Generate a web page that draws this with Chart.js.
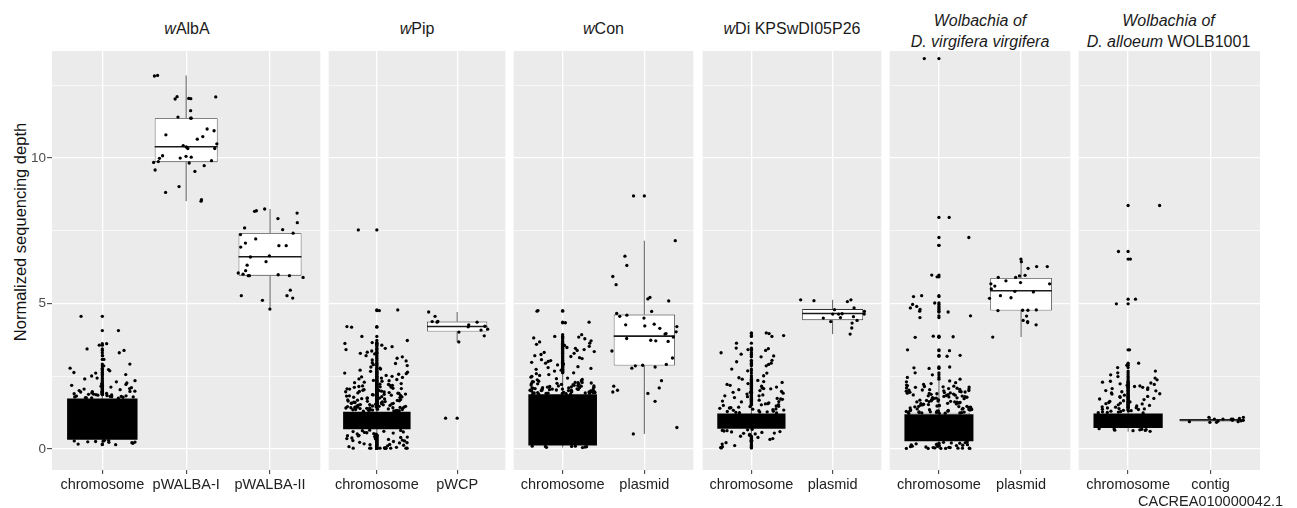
<!DOCTYPE html>
<html>
<head>
<meta charset="utf-8">
<script src="https://cdn.jsdelivr.net/npm/chart.js@4.4.1/dist/chart.umd.min.js"></script>
<style>
  body { margin: 0; background: #fff; width: 1297px; height: 508px; overflow: hidden; position: relative;
         font-family: 'Liberation Sans', Arial, sans-serif; }
  canvas { position: absolute; top: 0; }
  .strip { position: absolute; text-align: center; font-size: 16px; line-height: 21px; color: #1a1a1a; white-space: nowrap; }
  #ytitle { position: absolute; font-size: 16.5px; line-height: 20px; color: #111; white-space: nowrap; transform: rotate(-90deg); }
</style>
</head>
<body>
<div id="ytitle">Normalized sequencing depth</div>
<script>
// facet titles and categories
const titles = [
  '<i>w</i>AlbA',
  '<i>w</i>Pip',
  '<i>w</i>Con',
  '<i>w</i>Di KPSwDI05P26',
  '<i>Wolbachia of</i><br><i>D. virgifera virgifera</i>',
  '<i>Wolbachia of</i><br><i>D. alloeum</i> WOLB1001'
];
const categories = [
  ['chromosome', 'pWALBA-I', 'pWALBA-II'],
  ['chromosome', 'pWCP'],
  ['chromosome', 'plasmid'],
  ['chromosome', 'plasmid'],
  ['chromosome', 'plasmid'],
  ['chromosome', ['contig', 'CACREA010000042.1']]
];

// y axis ticks
const yMajor = [0, 5, 10];
const yMinor = [2.5, 7.5, 12.5];

// sequencing depth per window
const wAlbA_chromosome = [4.56, 4.07, 3.62, 3.57, 3.44, 3.39, 3.31, 3.21, 3.08, 2.86, 2.78, 2.73, 2.69, 2.61, 2.56,
  2.51, 2.44, 2.41, 2.35, 2.31, 2.27, 2.22, 2.19, 2.13, 2.11, 2.06, 2.04, 2.01, 1.98, 1.96, 1.93, 1.91, 1.89, 1.87,
  1.84, 1.82, 1.8, 1.79, 1.77, 1.76, 1.81, 1.83, 1.86, 1.9, 1.94, 1.78, 1.75, 1.79, 1.85, 1.99, 2.08, 2.16, 1.97,
  2.24, 2.63, 2.92, 1.88, 1.76, 1.81,
  0.29, 0.27, 0.25, 0.22, 0.2, 0.17, 0.15, 0.28, 0.24, 0.3, 0.26, 0.23];
const wAlbA_pWALBA_I = [12.82, 12.84, 12.11, 12.03, 12.1, 12.05, 12.04, 11.63, 11.37, 11.37, 11.41, 10.94, 11.0,
  10.8, 10.74, 10.65, 10.49, 10.43, 10.33, 10.38, 10.33, 10.06, 9.99, 9.88, 10.0, 9.91, 10.03, 10.08, 9.83, 9.74,
  9.85, 9.54, 9.59, 9.02, 8.82, 8.57, 8.52];
const wAlbA_pWALBA_II = [8.17, 8.25, 8.19, 8.11, 7.92, 7.78, 7.54, 7.6, 7.42, 7.37, 7.22, 6.99, 6.99, 7.08, 6.94,
  6.6, 6.64, 6.44, 6.32, 6.05, 6.13, 5.99, 5.96, 5.96, 5.96, 6.01, 5.9, 5.27, 5.46, 5.11, 5.27, 5.19, 4.81];

const wPip_chromosome = [7.53, 4.78, 4.76, 4.21, 4.19, 3.87, 3.73, 3.66, 3.63, 3.61, 3.57, 3.52, 3.46, 3.42, 3.37,
  3.33, 3.29, 3.27, 3.21, 3.17, 3.12, 3.06, 3.03, 2.97, 2.94, 2.9, 2.87, 2.82, 2.78, 2.75, 2.71, 2.67, 2.64, 2.61,
  2.57, 2.53, 2.5, 2.48, 2.44, 2.41, 2.39, 2.36, 2.33, 2.3, 2.28, 2.25, 2.22, 2.2, 2.17, 2.15, 2.12, 2.09, 2.07,
  2.04, 2.02, 1.99, 1.97, 1.94, 1.92, 1.89, 1.87, 1.84, 1.82, 1.8, 1.77, 1.75, 1.73, 1.7, 1.68, 1.66, 1.63, 1.61,
  1.59, 1.57, 1.55, 1.53, 1.51, 1.49, 1.47, 1.45, 1.43, 1.41, 1.39, 1.37, 1.35, 1.33, 1.31, 1.3,
  1.32, 1.34, 1.36, 1.38, 1.4, 1.42, 1.44, 1.46, 1.5, 1.54, 1.58, 1.62, 1.67, 1.72, 1.78, 1.85, 1.91, 1.98, 2.06,
  2.14, 2.23, 2.35, 2.46, 2.59, 1.31, 1.35, 1.39, 1.43, 1.48, 1.56,
  1.33, 1.36, 1.41, 1.44, 1.47, 1.52, 1.57, 1.6, 1.64, 1.69, 1.74, 1.79, 1.83, 1.88, 1.93, 1.96, 2.01, 2.08, 2.13,
  2.19, 1.34, 1.38, 1.45, 1.53, 1.65, 1.76, 1.86, 2.03, 1.31, 1.42,
  0.65, 0.63, 0.61, 0.59, 0.57, 0.55, 0.53, 0.51, 0.49, 0.47, 0.45, 0.43, 0.41, 0.38, 0.36, 0.33, 0.31, 0.28, 0.26,
  0.23, 0.21, 0.18, 0.16, 0.13, 0.11, 0.08, 0.06, 0.04, 0.03, 0.03, 0.03, 0.03, 0.03, 0.03, 0.03, 0.03, 0.03, 0.03,
  0.64, 0.6, 0.56, 0.52, 0.46, 0.4, 0.35, 0.29, 0.22, 0.15];
const wPip_pWCP = [4.71, 4.56, 4.38, 4.36, 4.39, 4.36, 4.27, 4.22, 4.2, 4.12, 4.09, 4.02, 3.89, 3.68, 1.06];

const wCon_chromosome = [4.76, 4.74, 4.36, 4.34, 3.93, 3.87, 3.85, 3.82, 3.79, 3.72, 3.68, 3.64, 3.6, 3.56, 3.53,
  3.49, 3.46, 3.42, 3.39, 3.35, 3.32, 3.29, 3.25, 3.21, 3.18, 3.14, 3.11, 3.07, 3.04, 3.01, 2.98, 2.95, 2.92, 2.89,
  2.86, 2.83, 2.8, 2.77, 2.74, 2.71, 2.68, 2.65, 2.62, 2.59, 2.56, 2.53, 2.5, 2.47, 2.44, 2.42, 2.39, 2.36, 2.34,
  2.31, 2.29, 2.27, 2.25, 2.23, 2.21, 2.19, 2.17, 2.15, 2.13, 2.11, 2.09, 2.07, 2.05, 2.03, 2.01, 1.99, 1.97, 1.96,
  1.95, 1.94, 1.93, 1.92, 1.91, 1.9, 1.89, 2.02, 2.06, 2.1, 2.14, 2.18, 2.22, 2.0, 2.04, 2.08, 2.12, 1.92, 1.94,
  1.96, 1.98, 2.26, 2.32, 2.38,
  1.89, 1.91, 1.93, 1.95, 1.97, 1.99, 2.01, 2.03, 2.05, 2.07, 2.1, 2.13, 2.16, 2.2, 2.24, 2.28, 2.33, 1.9, 1.94,
  1.98, 2.02, 2.06, 2.11, 2.17, 2.29,
  0.1, 0.09, 0.08, 0.07, 0.06, 0.1, 0.05, 0.09];
const wCon_plasmid = [8.7, 7.16, 6.63, 6.31, 5.93, 5.65, 5.21, 5.09, 5.16, 4.66, 4.73, 4.6, 4.5, 4.56, 4.27, 4.29,
  4.23, 4.21, 4.15, 3.97, 4.03, 3.8, 3.74, 3.85, 3.72, 3.95, 3.37, 3.13, 3.7, 2.91, 2.82, 2.86, 2.88, 2.78, 2.35,
  2.02, 1.91, 2.16, 2.1, 1.64, 1.96, 0.74, 0.52];

const wDi_chromosome = [3.99, 3.97, 3.9, 3.87, 3.64, 3.47, 3.45, 3.42, 3.39, 3.31, 3.26, 3.2, 3.17, 3.05, 3.0, 2.95,
  2.91, 2.86, 2.75, 2.69, 2.61, 2.52, 2.45, 2.4, 2.36, 2.32, 2.29, 2.25, 2.22, 2.19, 2.16, 2.13, 2.1, 2.07, 2.04,
  2.01, 1.98, 1.95, 1.92, 1.89, 1.86, 1.83, 1.8, 1.77, 1.74, 1.71, 1.68, 1.65, 1.62, 1.59, 1.56, 1.53, 1.5, 1.47,
  1.44, 1.41, 1.38, 1.35, 1.32, 1.29, 1.26, 1.24, 1.25, 1.27, 1.3, 1.33, 1.37, 1.42, 1.48, 1.55, 1.63, 1.72, 1.83,
  1.95, 2.08, 1.28, 1.34, 1.4, 1.46, 1.52,
  0.68, 0.66, 0.64, 0.62, 0.6, 0.57, 0.55, 0.52, 0.5, 0.47, 0.44, 0.4, 0.36, 0.33, 0.3, 0.27, 0.22, 0.17, 0.12,
  0.08, 0.05, 0.04, 0.63, 0.59, 0.54];
const wDi_plasmid = [5.13, 5.13, 5.1, 5.07, 4.85, 4.73, 4.79, 4.65, 4.64, 4.64, 4.64, 4.5, 4.55, 4.52, 4.33, 4.42,
  4.38, 4.16, 3.95];

const Dvv_chromosome = [13.42, 7.96, 7.27, 7.0, 5.98, 5.92, 5.27, 5.24, 5.02, 4.97, 4.9, 4.85, 4.8, 4.74, 4.71, 4.58,
  4.52, 3.88, 3.86, 3.84, 3.41, 3.38, 3.22, 3.19, 2.82, 2.79, 2.77, 2.62, 2.55, 2.46, 2.4,
  2.34, 2.31, 2.28, 2.25, 2.22, 2.2, 2.18, 2.15, 2.13, 2.1, 2.08, 2.06, 2.04, 2.02, 2.0, 1.98, 1.96, 1.94, 1.92,
  1.9, 1.88, 1.86, 1.84, 1.82, 1.8, 1.78, 1.76, 1.74, 1.72, 1.7, 1.68, 1.66, 1.64, 1.62, 1.6, 1.58, 1.56, 1.54,
  1.52, 1.5, 1.48, 1.46, 1.44, 1.42, 1.4, 1.38, 1.36, 1.34, 1.32, 1.3, 1.28, 1.26, 1.24, 1.22, 2.12, 1.97, 1.83,
  1.69, 1.55, 1.41, 1.27, 1.91, 1.77, 1.63, 1.49, 1.35, 1.23, 1.25, 1.29, 1.33, 2.05, 1.85, 1.65, 1.45,
  1.23, 1.26, 1.3, 1.34, 1.37, 1.43, 1.47, 1.51, 1.57, 1.61, 1.67, 1.71, 1.75, 1.81, 1.87, 1.93, 1.99, 2.03, 2.09,
  2.16, 1.24, 1.28, 1.39, 1.53, 1.59, 1.73, 1.89, 2.01, 1.31, 1.47, 1.62, 1.79, 1.95, 2.14, 1.27, 1.36,
  0.24, 0.22, 0.2, 0.18, 0.16, 0.14, 0.12, 0.1, 0.08, 0.06, 0.05, 0.04, 0.03, 0.03, 0.02, 0.02, 0.02, 0.02, 0.21,
  0.17, 0.13, 0.09, 0.05, 0.03, 0.19, 0.11, 0.07, 0.02, 0.15, 0.23];
const Dvv_plasmid = [6.53, 6.44, 6.27, 6.27, 6.21, 5.95, 5.97, 5.9, 5.9, 5.78, 5.72, 5.68, 5.68, 5.6, 5.5, 5.4, 5.42,
  5.27, 5.2, 5.18, 4.77, 4.77, 4.78, 4.76, 4.38, 4.57, 4.42, 4.35, 4.27, 3.85];

const Dal_chromosome = [8.37, 6.79, 6.53, 5.15, 4.99, 3.41, 2.95, 2.88, 2.8, 2.68, 2.62, 2.55, 2.49, 2.44, 2.38, 2.33,
  2.3, 2.27, 2.22, 2.19, 2.15, 2.12, 2.08, 2.05, 2.01, 1.97, 1.93, 1.89, 1.85, 1.81, 1.78, 1.74, 1.7, 1.66, 1.62,
  1.58, 1.55, 1.52, 1.48, 1.45, 1.42, 1.39, 1.36, 1.33, 1.3, 1.28, 1.26, 1.24, 1.25, 1.27, 1.29, 1.32, 1.35, 1.38,
  1.41, 1.44, 1.5, 1.56, 1.6, 1.64, 1.72, 1.8, 1.9, 2.0, 2.1, 2.17, 2.24, 1.31, 1.37,
  0.7, 0.69, 0.67, 0.66, 0.64, 0.63, 0.61, 0.68, 0.65];
const Dal_contig = [1.03, 0.96, 1.03, 1.05, 1.09, 0.99, 1.03, 0.99, 0.94, 0.92, 0.94, 1.09, 1.03, 0.92, 0.97];

const panelSeries = [
  [wAlbA_chromosome, wAlbA_pWALBA_I, wAlbA_pWALBA_II],
  [wPip_chromosome, wPip_pWCP],
  [wCon_chromosome, wCon_plasmid],
  [wDi_chromosome, wDi_plasmid],
  [Dvv_chromosome, Dvv_plasmid],
  [Dal_chromosome, Dal_contig]
];

// boxplot statistics
const whiskerLow  = [[0.18, 8.52, 4.81], [0.5, 3.68], [0.05, 0.52], [0.45, 3.95], [0.0, 3.85], [0.6, 0.92]];
const boxQ1       = [[0.72, 9.86, 5.96], [0.82, 4.04], [0.6, 2.87], [0.85, 4.43], [0.6, 4.76], [0.85, 0.95]];
const boxMedian   = [[1.0, 10.39, 6.61], [0.98, 4.21], [1.0, 3.88], [0.97, 4.66], [0.9, 5.44], [0.96, 1.0]];
const boxQ3       = [[1.3, 11.37, 7.42], [1.12, 4.38], [1.4, 4.62], [1.1, 4.81], [1.25, 5.88], [1.06, 1.03]];
const whiskerHigh = [[1.86, 12.84, 8.25], [1.45, 4.71], [2.6, 7.16], [1.5, 5.13], [2.35, 6.53], [1.4, 1.09]];

// range covered solid by thousands of overlapping chromosome points
const denseLow  = [[0.32, null, null], [0.68, null], [0.12, null], [0.7, null], [0.27, null], [0.72, null]];
const denseHigh = [[1.74, null, null], [1.28, null], [1.88, null], [1.22, null], [1.2, null], [1.22, null]];

// layout
const panelLeft  = [52, 327, 512, 701, 888, 1077];
const panelRight = [322, 507, 695, 883, 1072, 1260];
const plotTop = 51, plotBottom = 470, pageW = 1297, pageH = 508;
const yMin = -0.72, yMax = 13.68;
const family = "'Liberation Sans', Arial, sans-serif";

// horizontal jitter of +-0.4 category, deterministic per point
function jitter(j, seed) {
  const h = Math.sin(j * 12.9898 + seed * 78.233) * 43758.5453;
  return (h - Math.floor(h) - 0.5) * 0.8;
}

const panelBg = {
  id: 'panelBg',
  beforeDraw(chart) {
    const a = chart.chartArea;
    chart.ctx.save();
    chart.ctx.fillStyle = '#ebebeb';
    chart.ctx.fillRect(a.left, a.top, a.right - a.left, a.bottom - a.top);
    chart.ctx.restore();
  }
};

// whiskers and median lines on top of the box bars
const boxLines = {
  id: 'boxLines',
  afterDatasetDraw(chart, args) {
    const ds = chart.data.datasets[args.index];
    if (!ds.boxStats) return;
    const ctx = chart.ctx, x = chart.scales.x, y = chart.scales.y;
    ctx.save();
    ds.boxStats.forEach((s, i) => {
      const cx = x.getPixelForValue(i);
      ctx.strokeStyle = '#333333';
      ctx.lineWidth = 0.8;
      ctx.beginPath();
      ctx.moveTo(cx, y.getPixelForValue(s.hi));
      ctx.lineTo(cx, y.getPixelForValue(s.q3));
      ctx.moveTo(cx, y.getPixelForValue(s.q1));
      ctx.lineTo(cx, y.getPixelForValue(s.lo));
      ctx.stroke();
      ctx.strokeStyle = '#1a1a1a';
      ctx.lineWidth = 1.6;
      ctx.beginPath();
      ctx.moveTo(x.getPixelForValue(i - 0.375), y.getPixelForValue(s.med));
      ctx.lineTo(x.getPixelForValue(i + 0.375), y.getPixelForValue(s.med));
      ctx.stroke();
    });
    ctx.restore();
  }
};

titles.forEach((t, k) => {
  const strip = document.createElement('div');
  strip.className = 'strip';
  strip.innerHTML = t;
  strip.style.left = panelLeft[k] + 'px';
  strip.style.width = (panelRight[k] - panelLeft[k]) + 'px';
  strip.style.top = (t.includes('<br>') ? 9.5 : 18) + 'px';
  document.body.appendChild(strip);
});

const yt = document.getElementById('ytitle');
yt.style.left = (20 - yt.offsetWidth / 2) + 'px';
yt.style.top = (232 - yt.offsetHeight / 2) + 'px';

categories.forEach((cats, k) => {
  const n = cats.length;
  const jitterPts = [], outlierPts = [], boxBars = [], denseBars = [], stats = [];
  panelSeries[k].forEach((vals, i) => {
    vals.forEach((v, j) => {
      jitterPts.push({x: i + jitter(j, 1 + i + 3 * k), y: v});
      if (v > whiskerHigh[k][i] || v < whiskerLow[k][i]) outlierPts.push({x: i, y: v});
    });
    boxBars.push({x: i, y: [boxQ1[k][i], boxQ3[k][i]]});
    if (denseLow[k][i] !== null) denseBars.push({x: i, y: [denseLow[k][i], denseHigh[k][i]]});
    stats.push({lo: whiskerLow[k][i], q1: boxQ1[k][i], med: boxMedian[k][i], q3: boxQ3[k][i], hi: whiskerHigh[k][i]});
  });

  const left = k === 0 ? 0 : panelLeft[k];
  const right = k === categories.length - 1 ? pageW : panelRight[k];
  const canvas = document.createElement('canvas');
  canvas.width = right - left;
  canvas.height = pageH;
  canvas.style.left = left + 'px';
  canvas.style.width = (right - left) + 'px';
  canvas.style.height = pageH + 'px';
  document.body.appendChild(canvas);

  new Chart(canvas, {
    type: 'bar',
    data: {
      datasets: [
        { type: 'scatter', data: jitterPts, backgroundColor: '#000', pointBackgroundColor: '#000',
          pointRadius: 1.65, pointBorderWidth: 0, pointHoverRadius: 1.65 },
        { type: 'scatter', data: outlierPts, backgroundColor: '#000', pointBackgroundColor: '#000',
          pointRadius: 1.65, pointBorderWidth: 0, pointHoverRadius: 1.65 },
        { type: 'bar', data: denseBars, backgroundColor: '#000', borderWidth: 0,
          barPercentage: 0.84, categoryPercentage: 1, grouped: false },
        { type: 'bar', data: boxBars, boxStats: stats, backgroundColor: '#fff', borderColor: '#333333',
          borderWidth: 0.8, borderSkipped: false, barPercentage: 0.75, categoryPercentage: 1, grouped: false }
      ]
    },
    options: {
      responsive: false,
      animation: false,
      events: [],
      devicePixelRatio: 1,
      layout: { padding: { top: plotTop, left: 0, bottom: 0, right: right - panelRight[k] } },
      plugins: { legend: { display: false }, tooltip: { enabled: false } },
      scales: {
        x: {
          type: 'linear', min: -0.6, max: n - 0.4, offset: false,
          afterBuildTicks: s => { s.ticks = cats.map((c, i) => ({value: i})); },
          afterFit: s => { s.height = pageH - plotBottom; },
          grid: { color: '#ffffff', lineWidth: 1.3, offset: false, drawTicks: true, tickLength: 4,
                  tickColor: '#333333', tickWidth: 1 },
          border: { display: false },
          ticks: { autoSkip: false, maxRotation: 0, minRotation: 0, padding: 2, color: '#222222',
                   font: { size: 14.5, family: family }, callback: v => cats[v] }
        },
        y: {
          type: 'linear', min: yMin, max: yMax,
          afterBuildTicks: s => { s.ticks = yMajor.concat(yMinor).sort((a, b) => a - b).map(v => ({value: v})); },
          afterFit: s => { s.width = k === 0 ? panelLeft[0] : 0; },
          grid: { color: '#ffffff', lineWidth: c => yMajor.includes(c.tick.value) ? 1.3 : 0.6,
                  drawTicks: k === 0, tickLength: 5, tickWidth: 1,
                  tickColor: c => yMajor.includes(c.tick.value) ? '#333333' : 'rgba(0,0,0,0)' },
          border: { display: false },
          ticks: { display: k === 0, padding: 1, color: '#4d4d4d', font: { size: 13.5, family: family },
                   callback: v => yMajor.includes(v) ? String(v) : '' }
        }
      }
    },
    plugins: [panelBg, boxLines]
  });
});
</script>
</body>
</html>
